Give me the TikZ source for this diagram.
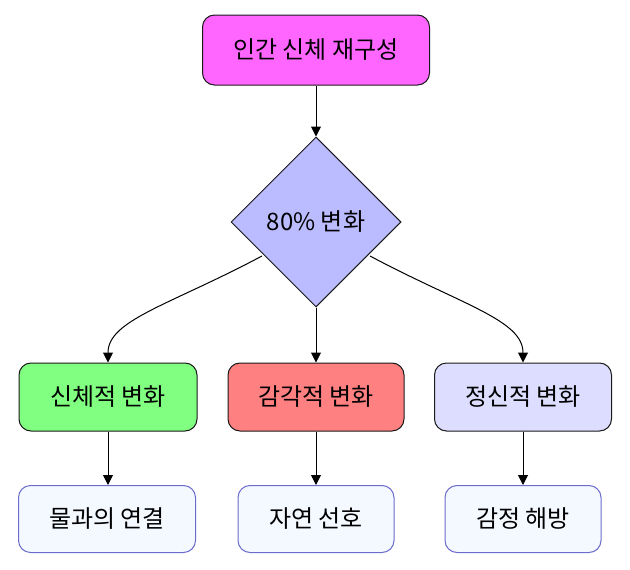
\documentclass[tikz,border=0pt]{standalone}
\usepackage{fontspec}
\setmainfont{Noto Sans CJK KR}
\usetikzlibrary{shapes.geometric,arrows.meta}
\definecolor{topfill}{HTML}{FF66FF}
\definecolor{diafill}{HTML}{BBBBFF}
\definecolor{gfill}{HTML}{80FF80}
\definecolor{rfill}{HTML}{FF8080}
\definecolor{lfill}{HTML}{DDDDFF}
\definecolor{bfill}{HTML}{F4F8FF}
\definecolor{bstroke}{HTML}{6C6CCC}
\definecolor{dstroke}{HTML}{1A1A1A}
\begin{document}
\begin{tikzpicture}[x=1pt,y=-1pt,
  txt/.style={font=\fontsize{24}{28}\selectfont},
  box/.style={txt,draw=dstroke,line width=1pt,rounded corners=12pt,minimum height=68pt},
  leaf/.style={txt,draw=bstroke,line width=1pt,rounded corners=12pt,fill=bfill,minimum height=67pt},
  conn/.style={draw=black,line width=1pt,-{Triangle[length=10pt,width=10pt]}}]
\useasboundingbox (0,0) rectangle (630,570);
\node[box,fill=topfill,minimum width=227pt,minimum height=70pt] (top) at (316,50) {인간 신체 재구성};
\node[txt,draw=dstroke,line width=1pt,fill=diafill,diamond,minimum width=170pt,minimum height=170pt,inner sep=0pt] (dia) at (316,222) {80\% 변화};
\node[box,fill=gfill,minimum width=178pt] (b1) at (108,397) {신체적 변화};
\node[box,fill=rfill,minimum width=176pt] (b2) at (316,397) {감각적 변화};
\node[box,fill=lfill,minimum width=177pt] (b3) at (523,397) {정신적 변화};
\node[leaf,minimum width=177pt] (c1) at (107,519) {물과의 연결};
\node[leaf,minimum width=156pt] (c2) at (316,519) {자연 선호};
\node[leaf,minimum width=156pt] (c3) at (523,519) {감정 해방};
\draw[conn] (top.south) -- (dia.north);
\coordinate (dl) at (262,256);
\coordinate (dr) at (370,256);
\draw[conn] (dl) .. controls (170,305) and (108,320) .. (b1.north);
\draw[conn] (dia.south) -- (b2.north);
\draw[conn] (dr) .. controls (462,305) and (523,320) .. (b3.north);
\draw[conn] (b1.south) -- (c1.north -| b1.south);
\draw[conn] (b2.south) -- (c2.north);
\draw[conn] (b3.south) -- (c3.north);
\end{tikzpicture}
\end{document}
